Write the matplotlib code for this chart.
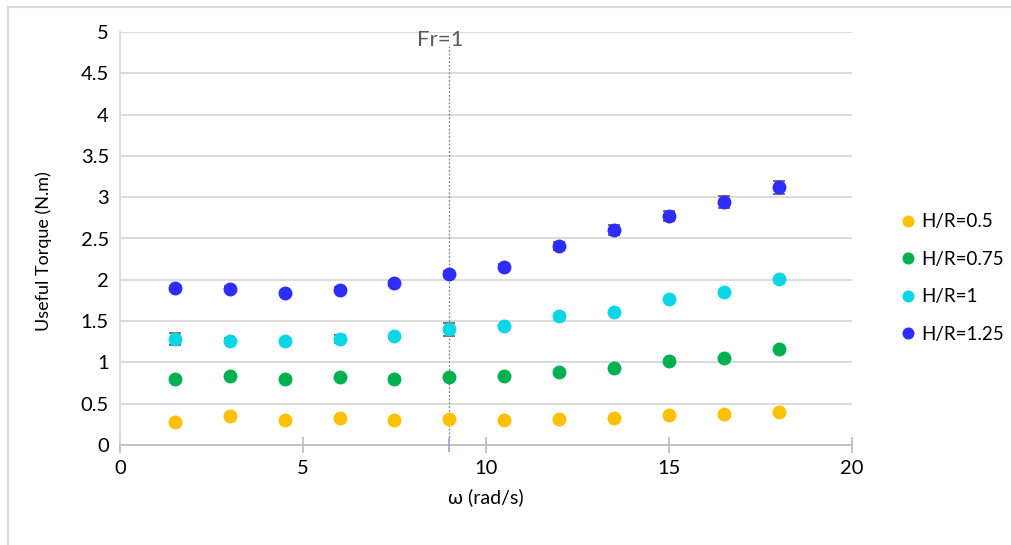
import matplotlib.pyplot as plt
from matplotlib.patches import Rectangle

plt.rcParams['font.family'] = ['Lato', 'DejaVu Sans']

omega = [1.5, 3, 4.5, 6, 7.5, 9, 10.5, 12, 13.5, 15, 16.5, 18]

t_05 = [0.28, 0.35, 0.30, 0.33, 0.30, 0.32, 0.30, 0.32, 0.33, 0.36, 0.37, 0.40]
t_075 = [0.80, 0.84, 0.80, 0.82, 0.80, 0.82, 0.83, 0.88, 0.93, 1.02, 1.05, 1.16]
t_1 = [1.28, 1.26, 1.26, 1.28, 1.32, 1.40, 1.44, 1.56, 1.61, 1.77, 1.85, 2.01]
t_125 = [1.90, 1.89, 1.84, 1.88, 1.96, 2.07, 2.16, 2.41, 2.60, 2.77, 2.94, 3.12]

e_05 = [0.01] * 12
e_075 = [0.01] * 12
e_1 = [0.07, 0.03, 0.01, 0.05, 0.01, 0.08, 0.01, 0.01, 0.01, 0.01, 0.01, 0.01]
e_125 = [0.03, 0.03, 0.02, 0.03, 0.03, 0.04, 0.03, 0.05, 0.06, 0.06, 0.07, 0.08]

labels = ['H/R=0.5', 'H/R=0.75', 'H/R=1', 'H/R=1.25']
colors = ['#FFC000', '#00B050', '#0BD6E6', '#2D2DFF']

fig = plt.figure(figsize=(10.12, 5.45), dpi=100)
fig.patches.append(Rectangle((8 / 1012, -0.1), 1.2, (545 - 7) / 545 + 0.1,
                             transform=fig.transFigure, fill=False,
                             edgecolor='#D9D9D9', lw=1.5))
ax = fig.add_axes([120 / 1012, 100 / 545, 732 / 1012, 413 / 545])

handles = []
for y, e, c, lab in zip([t_05, t_075, t_1, t_125], [e_05, e_075, e_1, e_125], colors, labels):
    ax.errorbar(omega, y, yerr=e, fmt='none', ecolor='#595959', elinewidth=1.2,
                capsize=4, capthick=1.2, zorder=3)
    h, = ax.plot(omega, y, 'o', color=c, ms=9, mec=c, zorder=4, label=lab)
    handles.append(h)

# Froude number line
ax.plot([9, 9], [0, 4.83], color='#7F7F7F', ls=(0, (1.5, 1.5)), lw=0.9, zorder=2)
ax.plot([9], [0], marker='|', ms=10, color='#8EA9DB', mew=1.2, zorder=5, clip_on=False)
ax.text(8.75, 4.9, 'Fr=1', fontsize=16, color='#595959', ha='center', va='center')

ax.set_xlim(0, 20)
ax.set_ylim(0, 5)
ax.set_xticks([0, 5, 10, 15, 20])
ax.set_yticks([0, 0.5, 1, 1.5, 2, 2.5, 3, 3.5, 4, 4.5, 5])
ax.set_yticklabels(['0', '0.5', '1', '1.5', '2', '2.5', '3', '3.5', '4', '4.5', '5'])
ax.grid(axis='y', color='#D9D9D9', lw=1.3)
ax.set_axisbelow(True)
for s in ['top', 'right']:
    ax.spines[s].set_visible(False)
ax.spines['left'].set_color('#D9D9D9')
ax.spines['bottom'].set_color('#BFBFBF')
ax.spines['left'].set_linewidth(1.3)
ax.spines['bottom'].set_linewidth(1.3)
ax.tick_params(axis='y', length=0, labelsize=14.5, pad=8)
ax.tick_params(axis='x', direction='inout', length=12, color='#BFBFBF', width=1.3,
               labelsize=14.5, pad=5)

ax.set_xlabel('ω (rad/s)', fontsize=14, labelpad=8)
ax.set_ylabel('Useful Torque (N.m)', fontsize=13, labelpad=14)
ax.yaxis.set_label_coords(-0.093, 0.47)

fig.legend(handles=handles, loc='center left', bbox_to_anchor=(880 / 1012, 1 - 278 / 545),
           frameon=False, fontsize=13.5, handletextpad=0.1, labelspacing=1.1,
           markerscale=0.85, handlelength=1.2)

fig.savefig('out.png', dpi=100)
